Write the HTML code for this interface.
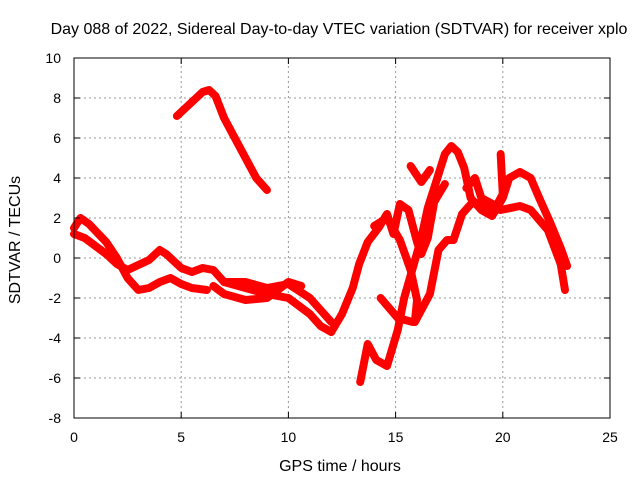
<!DOCTYPE html>
<html><head><meta charset="utf-8"><style>
body{margin:0;background:#fff}
svg{display:block;font-family:"Liberation Sans",sans-serif}
</style></head><body>
<svg id="c" width="640" height="480">
<text x="339" y="34" text-anchor="middle" font-size="16">Day 088 of 2022, Sidereal Day-to-day VTEC variation (SDTVAR) for receiver xplo</text>
<text x="340" y="471" text-anchor="middle" font-size="16">GPS time / hours</text>
<text transform="translate(20,240) rotate(-90)" text-anchor="middle" font-size="16">SDTVAR / TECUs</text>
<g id="grid"></g><g id="marks"></g><g id="axes"></g>
</svg>
<script>
const xTicks=[0,5,10,15,20,25];
const yTicks=[-8,-6,-4,-2,0,2,4,6,8,10];
const trackA=[[4.8,7.1],[5.5,7.8],[6.0,8.3],[6.3,8.4],[6.6,8.1],[7.0,7.0],[7.5,6.0],[8.0,5.0],[8.5,4.0],[9.0,3.4]];
const trackB=[[0,1.5],[0.3,2.0],[0.7,1.7],[1.5,0.8],[2.0,0],[2.5,-1.0],[3.0,-1.6],[3.5,-1.5],[4.0,-1.2],[4.5,-1.0],[5.0,-1.3],[5.5,-1.5],[6.2,-1.6]];
const trackC=[[0,1.2],[0.5,1.0],[1.5,0.2],[2.0,-0.3],[2.5,-0.6],[3.5,-0.1],[4.0,0.4],[4.3,0.2],[5.0,-0.5],[5.5,-0.7],[6.0,-0.5],[6.5,-0.6],[7.0,-1.2],[8.0,-1.5],[9.0,-1.8],[10.0,-2.0],[11.0,-2.8],[11.5,-3.4],[12.0,-3.7]];
const trackD=[[6.5,-1.4],[7.0,-1.8],[8.0,-2.1],[9.0,-2.0],[10.0,-1.2],[10.6,-1.4]];
const trackE=[[7.0,-1.2],[8.0,-1.2],[9.0,-1.5],[10.0,-1.3],[11.0,-2.0],[11.5,-2.6],[12.0,-3.2]];
const trackF=[[12.0,-3.7],[12.5,-2.8],[13.0,-1.5],[13.3,-0.3],[13.7,0.8],[14.2,1.5],[14.6,2.2],[14.9,1.2],[15.2,2.7],[15.6,2.4],[16.0,0.8],[16.2,0.2],[16.5,1.0],[16.8,2.8],[17.3,3.7]];
const trackG=[[14.0,1.6],[14.6,2.0],[15.2,0.9],[15.7,-0.6],[16.0,-2.1],[15.9,-3.2],[16.6,-1.8],[17.0,0.4],[17.4,0.9],[17.7,0.9],[18.1,2.2],[18.6,2.8],[19.9,2.4],[20.8,2.6],[21.3,2.4],[22.1,1.4],[22.7,-0.3],[22.9,-1.6]];
const trackH=[[13.35,-6.2],[13.7,-4.3],[14.1,-5.1],[14.6,-5.4],[15.1,-3.6],[15.4,-2.0],[15.8,-0.5],[16.2,1.0],[16.5,2.5],[16.8,3.5],[17.3,5.2],[17.6,5.6],[17.9,5.3],[18.2,4.5],[18.5,3.0],[19.0,2.4],[19.5,2.1],[20.0,3.0],[20.3,4.0],[20.8,4.3],[21.3,4.0],[21.7,3.0],[22.2,1.8],[22.7,0.5],[23.0,-0.4]];
const trackI=[[14.3,-2.0],[15.1,-3.0],[15.8,-3.2]];
const trackJ=[[15.7,4.6],[16.2,3.8],[16.6,4.4]];
const trackK=[[19.9,5.2],[20.0,3.2],[19.7,2.6],[19.0,3.0],[18.7,4.0],[18.3,3.5]];
const tracks=[trackA,trackB,trackC,trackD,trackE,trackF,trackG,trackH,trackI,trackJ,trackK];
const X0=74,X1=610,Y0=418,Y1=58,xmin=0,xmax=25,ymin=-8,ymax=10;
const sx=v=>X0+(v-xmin)/(xmax-xmin)*(X1-X0);
const sy=v=>Y0-(v-ymin)/(ymax-ymin)*(Y0-Y1);
const NS="http://www.w3.org/2000/svg";
function mk(t,a,p){const e=document.createElementNS(NS,t);for(const k in a)e.setAttribute(k,a[k]);p.appendChild(e);return e;}
const grid=document.getElementById('grid'),axes=document.getElementById('axes'),marks=document.getElementById('marks');
xTicks.forEach(t=>{
 if(t>xmin&&t<xmax){const g=mk('line',{x1:sx(t),x2:sx(t),y1:Y0,y2:Y1,stroke:'#999','stroke-dasharray':'2,3'},grid);
 
 }
 const l=mk('text',{x:sx(t),y:Y0+24,'text-anchor':'middle','font-size':14},axes);l.textContent=t;
 
 
 mk('line',{x1:sx(t),x2:sx(t),y1:Y0,y2:Y0-6,stroke:'#000'},axes);
 mk('line',{x1:sx(t),x2:sx(t),y1:Y1,y2:Y1+6,stroke:'#000'},axes);
});
yTicks.forEach(t=>{
 if(t>ymin&&t<ymax){const g=mk('line',{x1:X0,x2:X1,y1:sy(t),y2:sy(t),stroke:'#999','stroke-dasharray':'2,3'},grid);
 
 }
 const l=mk('text',{x:X0-13,y:sy(t)+5,'text-anchor':'end','font-size':14},axes);l.textContent=t;
 
 
 mk('line',{x1:X0,x2:X0+6,y1:sy(t),y2:sy(t),stroke:'#000'},axes);
 mk('line',{x1:X1,x2:X1-6,y1:sy(t),y2:sy(t),stroke:'#000'},axes);
});
const fr=mk('rect',{x:X0,y:Y1,width:X1-X0,height:Y0-Y1,fill:'none',stroke:'#000'},axes);


tracks.forEach(tr=>{
 const p=mk('polyline',{points:tr.map(d=>sx(d[0])+','+sy(d[1])).join(' '),fill:'none',stroke:'#f00','stroke-width':8,'stroke-linejoin':'round','stroke-linecap':'round'},marks);
 
 
});
</script>
</body></html>
